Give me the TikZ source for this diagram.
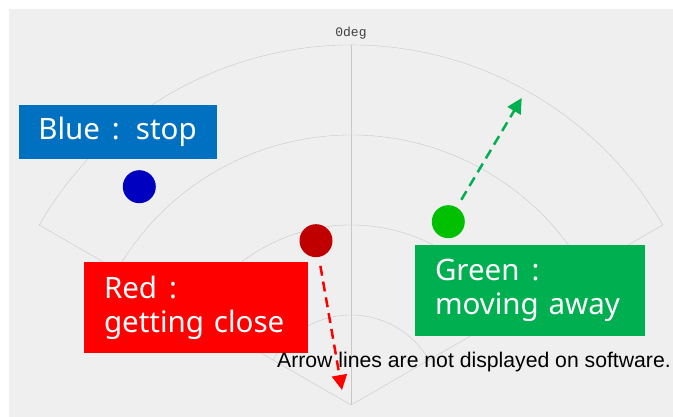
\documentclass[tikz,border=0pt]{standalone}
\usepackage{fontspec}
\usetikzlibrary{arrows.meta}
\newfontfamily\labelfont{Noto Sans}
\newfontfamily\notefont{Liberation Sans}
\newfontfamily\degfont{Liberation Mono}
\definecolor{panelgray}{HTML}{EFEFEF}
\definecolor{gridgray}{HTML}{C8C8C8}
\definecolor{boxblue}{HTML}{0070C0}
\definecolor{boxgreen}{HTML}{00B050}
\definecolor{dotblue}{HTML}{0000C0}
\definecolor{dotred}{HTML}{C00000}
\definecolor{dotgreen}{HTML}{00C000}
\newcommand{\widecolon}{\hspace{12pt}:\hspace{16pt}}
\begin{document}
\begin{tikzpicture}[x=1pt,y=1pt,
  radardot/.style={circle,fill=#1,inner sep=0pt,outer sep=0pt,minimum size=33pt},
  infobox/.style={fill=#1,text=white,font=\labelfont\fontsize{29.5}{34}\selectfont,inner sep=0pt},
  trackarrow/.style={#1,line width=2.5pt,dash pattern=on 10pt off 6pt,
    -{Triangle[length=15pt,width=15pt]},shorten <=9pt}]
  \useasboundingbox (0,0) rectangle (673,417);
  \fill[white] (0,0) rectangle (673,417);
  \fill[panelgray] (9,0) rectangle (673,408);
  \coordinate (origin) at (351,12);
  \foreach \r in {90,180,270,360}
    \draw[gridgray] (origin) ++(150:\r) arc[start angle=150,end angle=30,radius=\r];
  \draw[gridgray] (origin) -- ++(150:360);
  \draw[gridgray] (origin) -- ++(90:360);
  \draw[gridgray] (origin) -- ++(30:360);
  \node[anchor=base,font=\degfont\fontsize{13}{15}\selectfont,text=black!75,inner sep=0pt]
    (zeroDeg) at (351,380.5) {0deg};
  \node[radardot=dotblue] (blueDot) at (139.3,230.3) {};
  \node[radardot=dotred] (redDot) at (316,176.3) {};
  \node[radardot=dotgreen] (greenDot) at (448.3,195.3) {};
  \node[infobox=boxblue,minimum width=198pt,minimum height=54pt]
    (blueLabel) at (117.5,284.8) {Blue\widecolon stop};
  \node[infobox=red,minimum height=91pt,text width=184pt,inner xsep=20pt,align=left]
    (redLabel) at (196,109.5) {Red\hspace{12pt}:\\getting close};
  \node[infobox=boxgreen,minimum height=91pt,text width=190pt,inner xsep=20pt,align=left]
    (greenLabel) at (530,126.5) {Green\hspace{12pt}:\\moving away};
  \node[anchor=base west,font=\notefont\fontsize{21.2}{25}\selectfont,inner sep=0pt]
    (note) at (277,49.3) {Arrow lines are not displayed on software.};
  \coordinate (redTo) at (342,27);
  \coordinate (greenTo) at (521.7,319);
  \draw[trackarrow=red] (redDot) -- (redTo);
  \draw[trackarrow=boxgreen] (greenDot) -- (greenTo);
\end{tikzpicture}
\end{document}
